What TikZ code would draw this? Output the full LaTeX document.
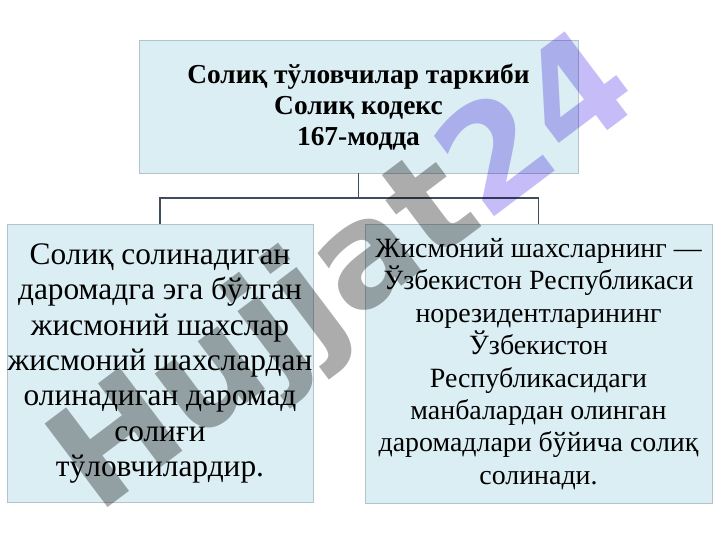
\documentclass[tikz,border=0pt]{standalone}
\usepackage{fontspec}
\setmainfont{Liberation Serif}
\newfontfamily\wmfont{DejaVu Sans}
\definecolor{boxfill}{HTML}{DBEEF3}
\definecolor{boxline}{HTML}{B4C2CC}
\definecolor{conn}{HTML}{3E4C5C}
\definecolor{wmgray}{HTML}{ACACAC}
\definecolor{wmpurple}{HTML}{C6BCF8}
\tikzset{
  panel/.style={draw=boxline, line width=1pt, fill=boxfill, rectangle, inner sep=0pt, align=center, text=black},
  link/.style={draw=conn, line width=1.6pt},
}
\begin{document}
\begin{tikzpicture}[x=1bp,y=-1bp]
\useasboundingbox (0,0) rectangle (720,540);
\fill[white] (0,0) rectangle (720,540);
\node[panel, minimum width=439bp, minimum height=132bp,
  font=\fontsize{27.5}{31.5}\selectfont\bfseries] (top) at (358.5,107)
  {Солиқ тўловчилар таркиби\\Солиқ кодекс\\167-модда};
\node[panel, minimum width=306bp, minimum height=277bp,
  font=\fontsize{31.5}{35.5}\selectfont] (left) at (160,363.5)
  {Солиқ солинадиган\\даромадга эга бўлган\\жисмоний шахслар\\жисмоний шахслардан\\олинадиган даромад\\солиғи\\тўловчилардир.};
\node[panel, minimum width=347bp, minimum height=278bp,
  font=\fontsize{28}{32.5}\selectfont] (right) at (538.5,364)
  {Жисмоний шахсларнинг —\\Ўзбекистон Республикаси\\норезидентларининг\\Ўзбекистон\\Республикасидаги\\манбалардан олинган\\даромадлари бўйича солиқ\\солинади.};
\coordinate (j) at (358.5,198);
\draw[link] (top.south) -- (j);
\draw[link] (left.north) |- (j) -| (right.north);
\begin{scope}[blend mode=multiply]
\node[rotate=37, inner sep=0pt, font=\wmfont\bfseries\fontsize{144}{144}\selectfont] (wm) at (348,278)
  {\textcolor{wmgray}{Hujjat}\textcolor{wmpurple}{24}};
\end{scope}
\end{tikzpicture}
\end{document}
